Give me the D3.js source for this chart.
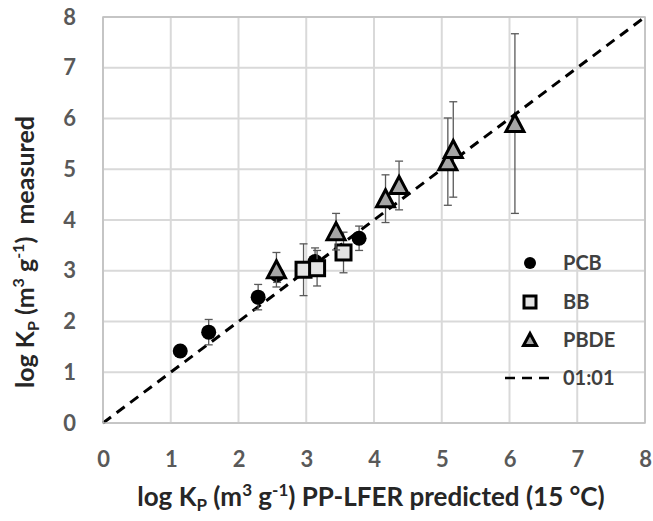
<!DOCTYPE html>
<html>
<head>
<meta charset="utf-8">
<script src="https://cdn.jsdelivr.net/npm/d3@7"></script>
<style>
  html, body { margin: 0; padding: 0; background: #fff; }
  svg { display: block; }
  text { font-family: Lato, "Open Sans", sans-serif; font-weight: bold; }
</style>
</head>
<body>
<script>
// ---- data ----
const xTicks = [0, 1, 2, 3, 4, 5, 6, 7, 8];
const yTicks = [0, 1, 2, 3, 4, 5, 6, 7, 8];

const pcbX   = [1.14, 1.56, 2.29, 2.57, 3.13, 3.78];
const pcbY   = [1.42, 1.79, 2.48, 2.92, 3.18, 3.64];
const pcbErr = [0.00, 0.25, 0.25, 0.15, 0.27, 0.24];

const bbX   = [2.96, 3.16, 3.55];
const bbY   = [3.02, 3.05, 3.36];
const bbErr = [0.51, 0.35, 0.40];

const pbdeX   = [2.56, 3.44, 4.17, 4.37, 5.09, 5.17, 6.08];
const pbdeY   = [3.02, 3.77, 4.42, 4.68, 5.15, 5.39, 5.90];
const pbdeErr = [0.34, 0.36, 0.47, 0.48, 0.86, 0.94, 1.77];

const legendLabels = ["PCB", "BB", "PBDE", "01:01"];

// ---- layout ----
const W = 653, H = 521;
const svg = d3.select("body").append("svg").attr("width", W).attr("height", H);

const x = d3.scaleLinear().domain([0, 8]).range([103, 645]);
const y = d3.scaleLinear().domain([0, 8]).range([423, 17]);

const gridColor = "#d9d9d9";

// grid
svg.append("g").selectAll("line").data(xTicks).join("line")
  .attr("x1", d => x(d)).attr("x2", d => x(d))
  .attr("y1", y(0)).attr("y2", y(8))
  .attr("stroke", gridColor).attr("stroke-width", 2);
svg.append("g").selectAll("line").data(yTicks).join("line")
  .attr("y1", d => y(d)).attr("y2", d => y(d))
  .attr("x1", x(0)).attr("x2", x(8))
  .attr("stroke", gridColor).attr("stroke-width", 2);

// axes (labels only)
const xAxis = svg.append("g").attr("transform", `translate(0,${y(0)})`)
  .call(d3.axisBottom(x).tickValues(xTicks).tickSize(0).tickPadding(28).tickFormat(d3.format("d")));
const yAxis = svg.append("g").attr("transform", `translate(${x(0)},0)`)
  .call(d3.axisLeft(y).tickValues(yTicks).tickSize(0).tickPadding(27).tickFormat(d3.format("d")));
[xAxis, yAxis].forEach(a => {
  a.select(".domain").remove();
  a.selectAll("text").attr("font-size", 22).attr("fill", "#595959")
    .attr("font-family", "Lato, sans-serif").attr("font-weight", "bold");
});

// 1:1 line
svg.append("line")
  .attr("x1", x(0)).attr("y1", y(0)).attr("x2", x(8)).attr("y2", y(8))
  .attr("stroke", "#000").attr("stroke-width", 3).attr("stroke-dasharray", "10,7");

// error bars helper
function errorBars(xs, ys, es) {
  const g = svg.append("g").attr("stroke", "#595959").attr("stroke-width", 1.3);
  xs.forEach((xv, i) => {
    if (es[i] <= 0) return;
    const cx = x(xv), t = y(ys[i] + es[i]), b = y(ys[i] - es[i]);
    g.append("line").attr("x1", cx).attr("x2", cx).attr("y1", t).attr("y2", b);
    g.append("line").attr("x1", cx - 4).attr("x2", cx + 4).attr("y1", t).attr("y2", t);
    g.append("line").attr("x1", cx - 4).attr("x2", cx + 4).attr("y1", b).attr("y2", b);
  });
}

const triPath = (s) => `M0,${-s / 2} L${s / 2},${s / 2 - 1} L${-s / 2},${s / 2 - 1} Z`;

// PCB
errorBars(pcbX, pcbY, pcbErr);
svg.append("g").selectAll("circle").data(pcbX).join("circle")
  .attr("cx", d => x(d)).attr("cy", (d, i) => y(pcbY[i])).attr("r", 7.5)
  .attr("fill", "#000");

// BB
errorBars(bbX, bbY, bbErr);
svg.append("g").selectAll("rect").data(bbX).join("rect")
  .attr("x", d => x(d) - 7.5).attr("y", (d, i) => y(bbY[i]) - 7.5)
  .attr("width", 15).attr("height", 15)
  .attr("fill", "#e4e4e4").attr("stroke", "#000").attr("stroke-width", 3);

// PBDE
errorBars(pbdeX, pbdeY, pbdeErr);
svg.append("g").selectAll("path").data(pbdeX).join("path")
  .attr("transform", (d, i) => `translate(${x(d)},${y(pbdeY[i])})`)
  .attr("d", triPath(18))
  .attr("fill", "#a6a6a6").attr("stroke", "#000").attr("stroke-width", 3)
  .attr("stroke-linejoin", "miter");

// plot border (gray)
svg.append("rect")
  .attr("x", x(0)).attr("y", y(8)).attr("width", x(8) - x(0)).attr("height", y(0) - y(8))
  .attr("fill", "none").attr("stroke", "#bfbfbf").attr("stroke-width", 1.5);

// legend
const lg = svg.append("g");
const ly = [263, 302, 340, 378];
const mx = 530, tx = 563;
lg.append("circle").attr("cx", mx).attr("cy", ly[0]).attr("r", 6).attr("fill", "#000");
lg.append("rect").attr("x", mx - 6).attr("y", ly[1] - 6).attr("width", 12).attr("height", 12)
  .attr("fill", "#e4e4e4").attr("stroke", "#000").attr("stroke-width", 3);
lg.append("path").attr("transform", `translate(${mx},${ly[2]})`).attr("d", triPath(13))
  .attr("fill", "#a6a6a6").attr("stroke", "#000").attr("stroke-width", 3);
lg.append("line").attr("x1", 505).attr("x2", 556).attr("y1", ly[3]).attr("y2", ly[3])
  .attr("stroke", "#000").attr("stroke-width", 2.5).attr("stroke-dasharray", "10,7");
lg.selectAll("text").data(legendLabels).join("text")
  .attr("x", tx).attr("y", (d, i) => ly[i]).attr("dy", "0.35em")
  .attr("font-size", 20).attr("fill", "#404040").text(d => d);

// axis titles
const xt = svg.append("text").attr("x", 371).attr("y", 506).attr("text-anchor", "middle")
  .attr("font-size", 26).attr("fill", "#262626");
xt.append("tspan").text("log K");
xt.append("tspan").attr("font-size", 17).attr("dy", 5).text("P");
xt.append("tspan").attr("dy", -5).text(" (m");
xt.append("tspan").attr("font-size", 17).attr("dy", -10).text("3");
xt.append("tspan").attr("dy", 10).text(" g");
xt.append("tspan").attr("font-size", 17).attr("dy", -10).text("-1");
xt.append("tspan").attr("dy", 10).text(") PP-LFER predicted (15 °C)");

const yt = svg.append("text").attr("transform", "translate(34,252) rotate(-90)")
  .attr("text-anchor", "middle").attr("font-size", 25).attr("fill", "#262626");
yt.append("tspan").text("log K");
yt.append("tspan").attr("font-size", 16).attr("dy", 5).text("P");
yt.append("tspan").attr("dy", -5).text(" (m");
yt.append("tspan").attr("font-size", 16).attr("dy", -10).text("3");
yt.append("tspan").attr("dy", 10).text(" g");
yt.append("tspan").attr("font-size", 16).attr("dy", -10).text("-1");
yt.append("tspan").attr("dy", 10).attr("xml:space", "preserve").text(")  measured");
</script>
</body>
</html>
